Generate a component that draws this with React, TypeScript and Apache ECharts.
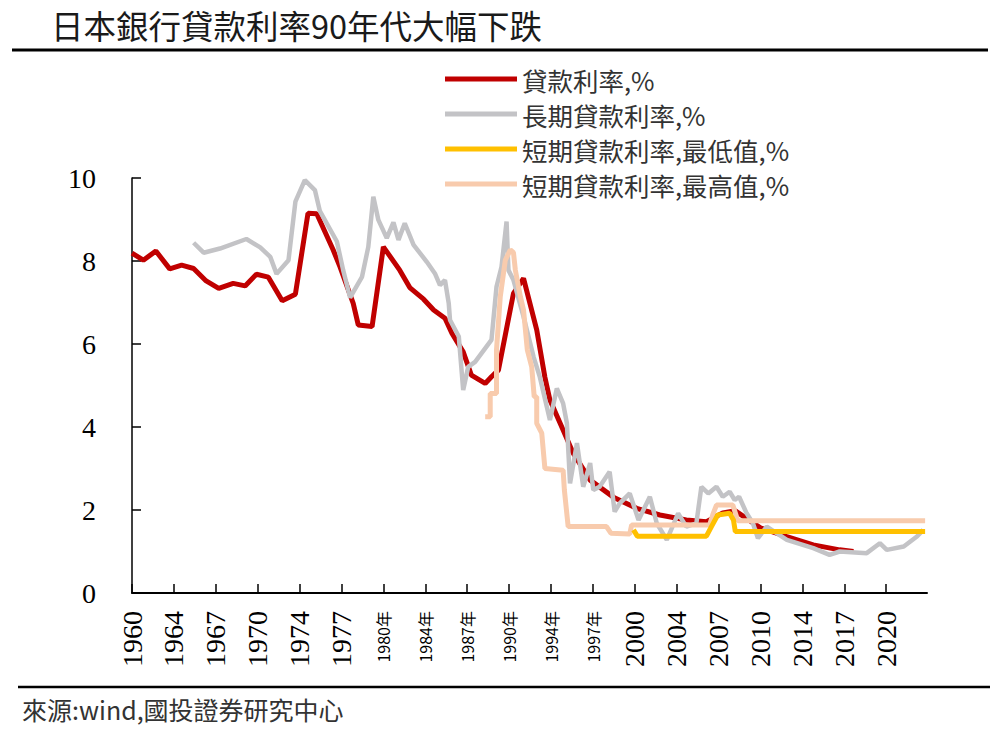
import React, { useEffect, useRef } from "react";
import * as echarts from "echarts";

const titleText = "日本銀行貸款利率90年代大幅下跌";
const sourceText = "來源:wind,國投證券研究中心";
const seriesNames = ["貸款利率,%", "長期貸款利率,%", "短期貸款利率,最低值,%", "短期貸款利率,最高值,%"];
const xTickLabels = ["1960", "1964", "1967", "1970", "1974", "1977", "1980年", "1984年", "1987年", "1990年", "1994年", "1997年", "2000", "2004", "2007", "2010", "2014", "2017", "2020"];

// [year, value]
const loanRate: [number, number][] = [
  [1960.0, 8.19], [1960.9, 8.02], [1961.9, 8.24], [1963.0, 7.81], [1963.95, 7.9], [1964.9, 7.82],
  [1965.9, 7.52], [1966.9, 7.34], [1968.05, 7.46], [1969.0, 7.4], [1969.9, 7.68], [1970.85, 7.61],
  [1971.95, 7.04], [1973.0, 7.2], [1974.0, 9.15], [1974.7, 9.14], [1976.0, 8.27], [1976.55, 7.86],
  [1977.6, 6.98], [1978.0, 6.46], [1979.1, 6.42], [1980.0, 8.34], [1981.3, 7.78], [1982.1, 7.36],
  [1983.2, 7.08], [1984.0, 6.82], [1984.9, 6.62], [1985.45, 6.26], [1986.35, 5.81], [1987.0, 5.25],
  [1988.1, 5.05], [1988.6, 5.21], [1989.15, 5.37], [1990.35, 7.22], [1991.15, 7.58], [1992.2, 6.34],
  [1992.85, 5.2], [1993.25, 4.65], [1994.3, 3.93], [1995.1, 3.37], [1996.45, 2.72], [1998.3, 2.31],
  [2000.15, 2.04], [2002.0, 1.88], [2004.1, 1.76], [2005.7, 1.72], [2007.0, 1.93], [2008.0, 1.98],
  [2010.0, 1.57], [2012.1, 1.36], [2014.2, 1.16], [2016.3, 1.04], [2017.4, 1.0]
];

const longTermRate: [number, number][] = [
  [1964.9, 8.44], [1965.7, 8.2], [1967.0, 8.3], [1969.1, 8.53], [1970.2, 8.33], [1971.0, 8.1],
  [1971.5, 7.69], [1972.45, 8.02], [1973.0, 9.43], [1973.75, 9.95], [1974.55, 9.71], [1974.95, 9.2],
  [1976.3, 8.47], [1976.8, 7.78], [1977.35, 7.12], [1978.3, 7.62], [1978.8, 8.34], [1979.2, 9.55],
  [1979.6, 8.99], [1980.27, 8.55], [1980.8, 8.93], [1981.2, 8.51], [1981.7, 8.91], [1982.4, 8.39],
  [1983.45, 7.98], [1984.1, 7.7], [1984.5, 7.42], [1984.9, 7.54], [1985.2, 6.98], [1985.3, 6.58],
  [1986.0, 6.18], [1986.35, 4.89], [1986.75, 5.45], [1987.3, 5.57], [1988.6, 6.1], [1989.0, 7.38],
  [1989.4, 7.86], [1989.8, 8.95], [1989.95, 7.78], [1990.35, 7.54], [1991.15, 6.66], [1991.95, 5.69],
  [1992.45, 5.2], [1993.25, 4.17], [1993.8, 4.93], [1994.3, 4.57], [1994.6, 4.09], [1994.85, 2.64],
  [1995.4, 3.61], [1995.9, 2.56], [1996.45, 3.13], [1996.7, 2.48], [1997.2, 2.56], [1998.0, 2.92],
  [1998.4, 1.96], [1998.8, 2.16], [1999.6, 2.4], [2000.3, 1.76], [2001.2, 2.32], [2001.75, 1.68],
  [2002.55, 1.28], [2003.45, 1.92], [2004.1, 1.6], [2004.9, 1.68], [2005.3, 2.56], [2005.85, 2.4],
  [2006.5, 2.56], [2007.0, 2.32], [2007.55, 2.44], [2007.95, 2.24], [2008.3, 2.32], [2008.9, 1.92],
  [2009.4, 1.68], [2009.8, 1.32], [2010.5, 1.6], [2012.1, 1.28], [2014.2, 1.08], [2015.5, 0.92],
  [2016.3, 1.0], [2018.45, 0.96], [2019.5, 1.2], [2020.05, 1.04], [2021.4, 1.12], [2022.45, 1.36],
  [2022.95, 1.52]
];

const shortTermMin: [number, number][] = [
  [1999.9, 1.52], [2000.2, 1.37], [2005.7, 1.37], [2006.1, 1.6], [2006.6, 1.88], [2007.55, 1.92],
  [2007.85, 1.76], [2008.0, 1.48], [2023.1, 1.48]
];

const shortTermMax: [number, number][] = [
  [1988.1, 4.25], [1988.5, 4.25], [1988.5, 4.81], [1989.0, 4.81], [1989.0, 5.86], [1989.3, 7.14],
  [1989.7, 8.02], [1990.1, 8.27], [1990.35, 8.2], [1990.5, 7.78], [1990.9, 7.14], [1991.15, 6.82],
  [1991.45, 5.86], [1991.8, 5.45], [1992.0, 4.73], [1992.2, 4.73], [1992.2, 4.09], [1992.6, 3.85],
  [1992.85, 3.0], [1994.3, 2.96], [1994.4, 2.48], [1994.7, 1.6], [1997.75, 1.6], [1998.1, 1.44],
  [1999.6, 1.42], [1999.75, 1.64], [2005.95, 1.64], [2006.2, 1.88], [2006.5, 2.12], [2007.8, 2.12],
  [2008.2, 1.74], [2023.1, 1.74]
];

const toMonths = (arr: [number, number][]) => arr.map(([y, v]) => [(y - 1960) * 12, v]);
const tickValues = xTickLabels.map((_, i) => i * 40);

export default function App() {
  const ref = useRef<HTMLDivElement>(null);
  useEffect(() => {
    if (!ref.current) return;
    const chart = echarts.init(ref.current, null, { renderer: "svg" });
    const cjk = '"Noto Sans CJK TC", "Noto Sans CJK SC", sans-serif';
    const serif = '"Liberation Serif", "DejaVu Serif", serif';
    chart.setOption({
      animation: false,
      backgroundColor: "#ffffff",
      title: {
        text: titleText,
        left: 46,
        top: 3,
        textStyle: { fontFamily: cjk, fontSize: 32.5, fontWeight: "normal", color: "#1a1a1a" },
      },
      legend: {
        orient: "vertical",
        left: 440,
        top: 59,
        itemWidth: 72,
        itemHeight: 5,
        itemGap: 5,
        icon: "rect",
        data: [seriesNames[0], seriesNames[1], seriesNames[2], seriesNames[3]],
        textStyle: { fontFamily: cjk, fontSize: 25.5, color: "#333", lineHeight: 30 },
      },
      grid: { left: 132, right: 73, top: 178, bottom: 138 },
      xAxis: {
        type: "value",
        min: 0,
        max: 759,
        interval: 40,
        splitLine: { show: false },
        axisLine: { show: true, onZero: false, lineStyle: { color: "#000", width: 2 } },
        axisTick: { show: true, inside: true, length: 9, customValues: tickValues, lineStyle: { color: "#000", width: 1.5 } },
        axisLabel: {
          customValues: tickValues,
          rotate: 90,
          margin: 18,
          formatter: (v: number) => {
            const i = Math.round(v / 40);
            const s = xTickLabels[i];
            if (!s || Math.abs(v - i * 40) > 0.01) return "";
            return s.includes("年") ? `{b|${s}}` : `{a|${s}}`;
          },
          rich: {
            a: { fontFamily: serif, fontSize: 28, color: "#000" },
            b: { fontFamily: cjk, fontSize: 16, color: "#000" },
          },
        },
      },
      yAxis: {
        type: "value",
        min: 0,
        max: 10,
        interval: 2,
        splitLine: { show: false },
        axisLine: { show: true, lineStyle: { color: "#000", width: 1.5 } },
        axisTick: { show: true, inside: true, length: 9, lineStyle: { color: "#000", width: 1.5 } },
        axisLabel: { fontFamily: serif, fontSize: 28, color: "#000", margin: 36 },
      },
      series: [
        { name: seriesNames[0], type: "line", data: toMonths(loanRate), showSymbol: false, symbol: "none", color: "#C00000", lineStyle: { width: 5, color: "#C00000" }, z: 2 },
        { name: seriesNames[1], type: "line", data: toMonths(longTermRate), showSymbol: false, symbol: "none", color: "#C3C3C6", lineStyle: { width: 4.5, color: "#C3C3C6" }, z: 3 },
        { name: seriesNames[3], type: "line", data: toMonths(shortTermMax), showSymbol: false, symbol: "none", color: "#F8CBAD", lineStyle: { width: 5, color: "#F8CBAD" }, z: 4 },
        { name: seriesNames[2], type: "line", data: toMonths(shortTermMin), showSymbol: false, symbol: "none", color: "#FFC000", lineStyle: { width: 5, color: "#FFC000" }, z: 5 },
      ],
      graphic: [
        { type: "line", shape: { x1: 12, y1: 50, x2: 988, y2: 50 }, style: { stroke: "#000", lineWidth: 3 } },
        { type: "line", shape: { x1: 18, y1: 687, x2: 990, y2: 687 }, style: { stroke: "#000", lineWidth: 2.5 } },
        {
          type: "text",
          x: 22,
          y: 709,
          style: { text: sourceText, fill: "#333", font: `25px ${cjk}`, verticalAlign: "middle", align: "left" },
        },
      ],
    });
    return () => chart.dispose();
  }, []);
  return <div ref={ref} style={{ position: "fixed", left: 0, top: 0, width: 1000, height: 731 }} />;
}
